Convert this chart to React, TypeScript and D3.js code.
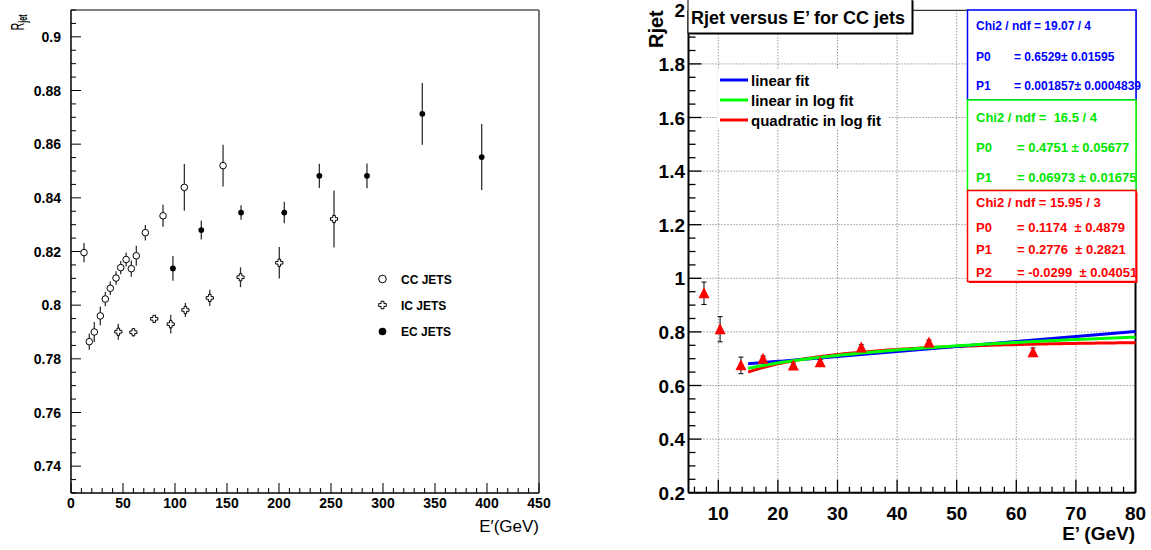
import React from 'react';
import * as d3 from 'd3';

// ---------- Left panel data ----------
const ccEnergy = [12.5, 17.6, 22.4, 28.2, 33.0, 37.8, 43.3, 47.8, 53.0, 58.0, 62.8, 71.5, 88.5, 109.0, 146.2];
const ccResponse = [0.8196, 0.7864, 0.79, 0.796, 0.8023, 0.8063, 0.8101, 0.814, 0.817, 0.8136, 0.8184, 0.827, 0.8333, 0.8439, 0.852];
const ccError = [0.0036, 0.003, 0.0037, 0.0035, 0.0027, 0.0025, 0.0025, 0.0025, 0.0026, 0.003, 0.0037, 0.0029, 0.0041, 0.0087, 0.0078];

const icEnergy = [45.5, 60.0, 80.0, 95.9, 110.0, 133.4, 163.0, 200.3, 252.9];
const icResponse = [0.7901, 0.7899, 0.7949, 0.7929, 0.7982, 0.8027, 0.8104, 0.8158, 0.8321];
const icError = [0.003, 0.0015, 0.0012, 0.0035, 0.0026, 0.003, 0.0037, 0.0059, 0.0106];

const ecEnergy = [98.0, 125.3, 163.5, 205.1, 238.8, 284.6, 337.8, 394.9];
const ecResponse = [0.8137, 0.828, 0.8345, 0.8345, 0.8482, 0.8482, 0.8713, 0.8552];
const ecError = [0.0046, 0.0035, 0.0027, 0.004, 0.0045, 0.0046, 0.0115, 0.0123];

const leftXTicks = [0, 50, 100, 150, 200, 250, 300, 350, 400, 450];
const leftYTicks = [0.74, 0.76, 0.78, 0.8, 0.82, 0.84, 0.86, 0.88, 0.9];
const leftLegend = ['CC JETS', 'IC JETS', 'EC JETS'];

// ---------- Right panel data ----------
const rjEnergy = [7.6, 10.3, 13.8, 17.5, 22.6, 27.1, 34.0, 45.35, 62.8];
const rjResponse = [0.944, 0.81, 0.675, 0.7, 0.674, 0.687, 0.742, 0.76, 0.724];
const rjError = [0.042, 0.047, 0.031, 0.01, 0.01, 0.01, 0.01, 0.01, 0.016];

const linearFitParams = [0.6529, 0.001857];
const logFitParams = [0.4751, 0.06973];
const quadLogFitParams = [0.1174, 0.2776, -0.0299];
const fitRange = [15, 80];

const rightXTicks = [10, 20, 30, 40, 50, 60, 70, 80];
const rightYTicks = [0.2, 0.4, 0.6, 0.8, 1, 1.2, 1.4, 1.6, 1.8, 2];
const rightLegend = ['linear fit', 'linear in log fit', 'quadratic in log fit'];

const statsBlue = ['Chi2 / ndf = 19.07 / 4', 'P0', '= 0.6529\u00b1 0.01595', 'P1', '= 0.001857\u00b1 0.0004839'];
const statsGreen = ['Chi2 / ndf =  16.5 / 4', 'P0', '= 0.4751 \u00b1 0.05677', 'P1', '= 0.06973 \u00b1 0.01675'];
const statsRed = ['Chi2 / ndf = 15.95 / 3', 'P0', '= 0.1174  \u00b1 0.4879', 'P1', '= 0.2776  \u00b1 0.2821', 'P2', '= -0.0299  \u00b1 0.04051'];

const FONT = 'Liberation Sans, Arial, Helvetica, sans-serif';

export default function App() {
  // Left scales
  const xL = d3.scaleLinear().domain([0, 450]).range([71, 539]);
  const yL = d3.scaleLinear().domain([0.73, 0.91]).range([493, 10]);
  // Right scales
  const xR = d3.scaleLinear().domain([5, 80]).range([688.5, 1135.5]);
  const yR = d3.scaleLinear().domain([0.2, 2.0]).range([492.7, 10.3]);

  const leftXMinor = d3.range(0, 451, 10);
  const leftYMinor = d3.range(0, 37).map((i) => 0.73 + i * 0.005);
  const rightXMinor = d3.range(6, 81, 2);
  const rightYMinor = d3.range(0, 37).map((i) => 0.2 + i * 0.05);

  const fitXs = d3.range(fitRange[0], fitRange[1] + 0.001, 0.5);
  const fLin = (x: number) => linearFitParams[0] + linearFitParams[1] * x;
  const fLog = (x: number) => logFitParams[0] + logFitParams[1] * Math.log(x);
  const fQuad = (x: number) => {
    const l = Math.log(x);
    return quadLogFitParams[0] + quadLogFitParams[1] * l + quadLogFitParams[2] * l * l;
  };
  const mkLine = (f: (x: number) => number) =>
    d3.line<number>().x((d) => xR(d)).y((d) => yR(f(d)))(fitXs) || '';

  const crossPath = (cx: number, cy: number, s: number, a: number) =>
    `M${cx - a},${cy - s}H${cx + a}V${cy - a}H${cx + s}V${cy + a}H${cx + a}V${cy + s}H${cx - a}V${cy + a}H${cx - s}V${cy - a}H${cx - a}Z`;
  const triPath = (cx: number, cy: number, s: number) =>
    `M${cx},${cy - s * 0.55}L${cx + s / 2},${cy + s * 0.45}L${cx - s / 2},${cy + s * 0.45}Z`;

  const errStroke = '#333';

  return (
    <svg width={1151} height={550} style={{ position: 'absolute', left: 0, top: 0, background: '#fff' }} fontFamily={FONT}>
      <rect x={0} y={0} width={1151} height={550} fill="#fff" />

      {/* ================= LEFT PANEL ================= */}
      <g>
        {/* frame */}
        <line x1={71} y1={10} x2={539} y2={10} stroke="#000" strokeWidth={1} />
        <line x1={539} y1={10} x2={539} y2={493} stroke="#777" strokeWidth={2} />
        <line x1={71} y1={10} x2={71} y2={493} stroke="#000" strokeWidth={1.5} />
        <line x1={71} y1={493} x2={539} y2={493} stroke="#000" strokeWidth={1.5} />

        {/* x ticks */}
        {leftXMinor.map((v) => (
          <line key={'lxm' + v} x1={xL(v)} x2={xL(v)} y1={493} y2={v % 50 === 0 ? 483 : 488} stroke="#000" strokeWidth={1} />
        ))}
        {leftXTicks.map((v) => (
          <text key={'lxt' + v} x={xL(v)} y={508} fontSize={14} fontWeight="bold" textAnchor="middle">{v}</text>
        ))}
        {/* y ticks */}
        {leftYMinor.map((v, i) => (
          <line key={'lym' + i} x1={71} x2={i % 4 === 2 ? 81 : 76} y1={yL(v)} y2={yL(v)} stroke="#000" strokeWidth={1} />
        ))}
        {leftYTicks.map((v) => (
          <text key={'lyt' + v} x={61} y={yL(v) + 5} fontSize={14} fontWeight="bold" textAnchor="end">{String(v)}</text>
        ))}

        {/* axis titles */}
        <text transform="translate(24,30.5) rotate(-90) scale(0.6,1)" fontSize={18}>
          R<tspan fontSize={12} fontWeight="bold" dy={3}>jet</tspan>
        </text>
        <text x={539} y={532} fontSize={17} textAnchor="end">E{'\u2032'}(GeV)</text>

        {/* IC error bars & markers */}
        {icEnergy.map((e, i) => (
          <line key={'ice' + i} x1={xL(e)} x2={xL(e)} y1={yL(icResponse[i] - icError[i])} y2={yL(icResponse[i] + icError[i])} stroke={errStroke} strokeWidth={1.3} />
        ))}
        {icEnergy.map((e, i) => (
          <path key={'icm' + i} d={crossPath(xL(e), yL(icResponse[i]), 3.6, 1.3)} fill="#fff" stroke="#000" strokeWidth={1} />
        ))}
        {/* CC */}
        {ccEnergy.map((e, i) => (
          <line key={'cce' + i} x1={xL(e)} x2={xL(e)} y1={yL(ccResponse[i] - ccError[i])} y2={yL(ccResponse[i] + ccError[i])} stroke={errStroke} strokeWidth={1.3} />
        ))}
        {ccEnergy.map((e, i) => (
          <circle key={'ccm' + i} cx={xL(e)} cy={yL(ccResponse[i])} r={3.3} fill="#fff" stroke="#000" strokeWidth={1} />
        ))}
        {/* EC */}
        {ecEnergy.map((e, i) => (
          <line key={'ece' + i} x1={xL(e)} x2={xL(e)} y1={yL(ecResponse[i] - ecError[i])} y2={yL(ecResponse[i] + ecError[i])} stroke={errStroke} strokeWidth={1.3} />
        ))}
        {ecEnergy.map((e, i) => (
          <circle key={'ecm' + i} cx={xL(e)} cy={yL(ecResponse[i])} r={2.9} fill="#000" />
        ))}

        {/* legend */}
        <circle cx={382.5} cy={279} r={3.8} fill="#fff" stroke="#000" strokeWidth={1} />
        <path d={crossPath(382.5, 305, 3.8, 1.4)} fill="#fff" stroke="#000" strokeWidth={1} />
        <circle cx={382.5} cy={331.5} r={3.8} fill="#000" />
        {leftLegend.map((t, i) => (
          <text key={'ll' + i} x={401} y={283.5 + i * 26.2} fontSize={12} fontWeight="bold">{t}</text>
        ))}
      </g>

      {/* ================= RIGHT PANEL ================= */}
      <g>
        {/* grid */}
        {rightXTicks.filter((v) => v < 80).map((v) => (
          <line key={'rgx' + v} x1={xR(v)} x2={xR(v)} y1={yR(2)} y2={yR(0.2)} stroke="#666" strokeWidth={1} strokeDasharray="1,2" />
        ))}
        {rightYTicks.filter((v) => v > 0.2 && v < 2).map((v) => (
          <line key={'rgy' + v} x1={xR(5)} x2={xR(80)} y1={yR(v)} y2={yR(v)} stroke="#666" strokeWidth={1} strokeDasharray="1,2" />
        ))}

        {/* ticks */}
        {rightXMinor.map((v) => (
          <line key={'rxm' + v} x1={xR(v)} x2={xR(v)} y1={492.7} y2={v % 10 === 0 ? 479.7 : 486.7} stroke="#000" strokeWidth={1.3} />
        ))}
        {rightYMinor.map((v, i) => (
          <line key={'rym' + i} x1={688.5} x2={i % 4 === 0 ? 701.5 : 695.5} y1={yR(v)} y2={yR(v)} stroke="#000" strokeWidth={1.3} />
        ))}

        {/* frame */}
        <line x1={688.5} y1={10.3} x2={1135.5} y2={10.3} stroke="#000" strokeWidth={1} />
        <line x1={1135.5} y1={10.3} x2={1135.5} y2={492.7} stroke="#000" strokeWidth={2} />
        <line x1={688.5} y1={10.3} x2={688.5} y2={492.7} stroke="#000" strokeWidth={2} />
        <line x1={688.5} y1={492.7} x2={1135.5} y2={492.7} stroke="#000" strokeWidth={2} />

        {/* tick labels */}
        {rightXTicks.map((v) => (
          <text key={'rxt' + v} x={xR(v)} y={520} fontSize={19} fontWeight="bold" textAnchor="middle">{v}</text>
        ))}
        {rightYTicks.map((v) => (
          <text key={'ryt' + v} x={685} y={yR(v) + 7} fontSize={19} fontWeight="bold" textAnchor="end">{String(v)}</text>
        ))}

        {/* axis titles */}
        <text transform="translate(663,48) rotate(-90)" fontSize={20} fontWeight="bold">Rjet</text>
        <text x={1135} y={540} fontSize={19} fontWeight="bold" textAnchor="end">E{'\u2019'} (GeV)</text>

        {/* fit curves */}
        <path d={mkLine(fQuad)} fill="none" stroke="#ff0000" strokeWidth={3} />
        <path d={mkLine(fLin)} fill="none" stroke="#0000ff" strokeWidth={3} />
        <path d={mkLine(fLog)} fill="none" stroke="#00ff00" strokeWidth={3} />

        {/* data */}
        {rjEnergy.map((e, i) => {
          const cx = xR(e);
          const y1 = yR(rjResponse[i] - rjError[i]);
          const y2 = yR(rjResponse[i] + rjError[i]);
          return (
            <g key={'rje' + i}>
              <line x1={cx} x2={cx} y1={y1} y2={y2} stroke="#000" strokeWidth={1} />
              <line x1={cx - 2.5} x2={cx + 2.5} y1={y1} y2={y1} stroke="#000" strokeWidth={1} />
              <line x1={cx - 2.5} x2={cx + 2.5} y1={y2} y2={y2} stroke="#000" strokeWidth={1} />
            </g>
          );
        })}
        {rjEnergy.map((e, i) => (
          <path key={'rjm' + i} d={triPath(xR(e), yR(rjResponse[i]), 11)} fill="#ff0000" />
        ))}

        {/* legend */}
        <rect x={718} y={70} width={170} height={58} fill="#fff" />
        {rightLegend.map((t, i) => (
          <g key={'rl' + i}>
            <line x1={720} x2={748} y1={80 + i * 20} y2={80 + i * 20} stroke={['#0000ff', '#00ff00', '#ff0000'][i]} strokeWidth={3} />
            <text x={751} y={85.5 + i * 20} fontSize={15} fontWeight="bold">{t}</text>
          </g>
        ))}

        {/* title box */}
        <rect x={689.5} y={0.5} width={224} height={34} fill="#000" />
        <rect x={688} y={-1} width={224} height={34} fill="#fff" stroke="#000" strokeWidth={1} />
        <text x={691} y={24} fontSize={18} fontWeight="bold">Rjet versus E{'\u2019'} for CC jets</text>

        {/* stats boxes */}
        <rect x={967.5} y={10} width={168.5} height={90} fill="#fff" stroke="#0000ff" strokeWidth={1.5} />
        <text x={976} y={29.5} fontSize={12} fontWeight="bold" fill="#0000ff" style={{ whiteSpace: 'pre' }}>{statsBlue[0]}</text>
        <text x={976} y={60.5} fontSize={12} fontWeight="bold" fill="#0000ff">{statsBlue[1]}</text>
        <text x={1014} y={60.5} fontSize={12} fontWeight="bold" fill="#0000ff" style={{ whiteSpace: 'pre' }}>{statsBlue[2]}</text>
        <text x={976} y={89.5} fontSize={12} fontWeight="bold" fill="#0000ff">{statsBlue[3]}</text>
        <text x={1014} y={89.5} fontSize={12} fontWeight="bold" fill="#0000ff" style={{ whiteSpace: 'pre' }}>{statsBlue[4]}</text>

        <rect x={967.5} y={100} width={168.5} height={90.5} fill="#fff" stroke="#00ff00" strokeWidth={1.5} />
        <text x={976} y={121.5} fontSize={13} fontWeight="bold" fill="#00e600" style={{ whiteSpace: 'pre' }}>{statsGreen[0]}</text>
        <text x={976} y={151.5} fontSize={13} fontWeight="bold" fill="#00e600">{statsGreen[1]}</text>
        <text x={1017} y={151.5} fontSize={13} fontWeight="bold" fill="#00e600" style={{ whiteSpace: 'pre' }}>{statsGreen[2]}</text>
        <text x={976} y={181.5} fontSize={13} fontWeight="bold" fill="#00e600">{statsGreen[3]}</text>
        <text x={1017} y={181.5} fontSize={13} fontWeight="bold" fill="#00e600" style={{ whiteSpace: 'pre' }}>{statsGreen[4]}</text>

        <rect x={969} y={192.5} width={168.5} height={90.5} fill="#ff0000" />
        <rect x={967.5} y={190.5} width={168.5} height={91} fill="#fff" stroke="#ff0000" strokeWidth={1.5} />
        <text x={976} y={207} fontSize={13} fontWeight="bold" fill="#ff0000" style={{ whiteSpace: 'pre' }}>{statsRed[0]}</text>
        {[0, 1, 2].map((k) => (
          <g key={'sr' + k}>
            <text x={976} y={231.5 + k * 22.5} fontSize={13} fontWeight="bold" fill="#ff0000">{statsRed[1 + k * 2]}</text>
            <text x={1017} y={231.5 + k * 22.5} fontSize={13} fontWeight="bold" fill="#ff0000" style={{ whiteSpace: 'pre' }}>{statsRed[2 + k * 2]}</text>
          </g>
        ))}
      </g>
    </svg>
  );
}
